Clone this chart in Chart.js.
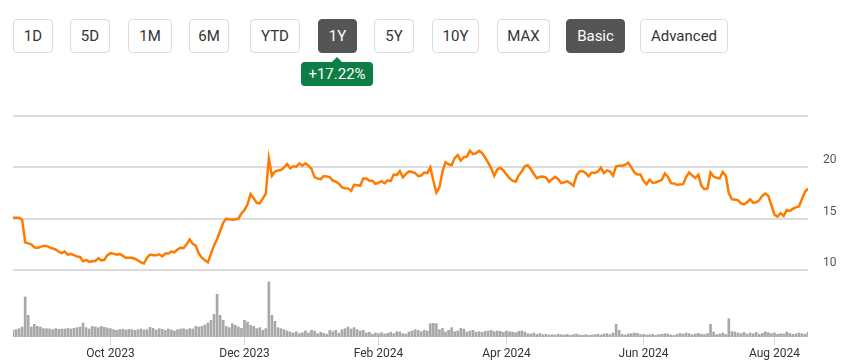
<!DOCTYPE html>
<html>
<head>
<meta charset="utf-8">
<script src="https://cdn.jsdelivr.net/npm/chart.js@4.4.1/dist/chart.umd.min.js"></script>
<style>
body { margin: 0; width: 857px; height: 362px; background: #fff; font-family: Roboto, Arial, sans-serif; overflow: hidden; position: relative; }
.btn { position: absolute; top: 19px; height: 34px; box-sizing: border-box; border: 1px solid #dcdcdc; border-radius: 4px; background: #fff; color: #333; font-size: 15px; display: flex; align-items: center; justify-content: center; }
.btn.on { background: #555; border-color: #555; color: #fff; }
.badge { position: absolute; left: 301px; top: 62px; width: 72px; height: 24px; background: #0e7c45; color: #fff; border-radius: 4px; font-size: 15px; display: flex; align-items: center; justify-content: center; }
.badge:before { content: ''; position: absolute; top: -5px; left: 31px; border-left: 5px solid transparent; border-right: 5px solid transparent; border-bottom: 5px solid #0e7c45; }
#wrap { position: absolute; left: 0; top: 100px; width: 857px; height: 262px; }
</style>
</head>
<body>
<div class="btn" style="left:13px;width:40px">1D</div>
<div class="btn" style="left:70px;width:40px">5D</div>
<div class="btn" style="left:128px;width:44px">1M</div>
<div class="btn" style="left:189px;width:40px">6M</div>
<div class="btn" style="left:250px;width:50px">YTD</div>
<div class="btn on" style="left:318px;width:39px">1Y</div>
<div class="btn" style="left:374px;width:40px">5Y</div>
<div class="btn" style="left:432px;width:47px">10Y</div>
<div class="btn" style="left:497px;width:53px">MAX</div>
<div class="btn on" style="left:566px;width:59px">Basic</div>
<div class="btn" style="left:640px;width:88px">Advanced</div>
<div class="badge">+17.22%</div>
<div id="wrap"><canvas id="chart" width="857" height="262"></canvas></div>
<script>
// Data (one value per trading day, first day below)
const startDate = '2023-08-17'
const tickLabels = ['Oct 2023', 'Dec 2023', 'Feb 2024', 'Apr 2024', 'Jun 2024', 'Aug 2024']
const priceTicks = [10, 15, 20, 25]

const prices = [
  15.1, 15.1, 15.1, 14.9, 12.7, 12.6, 12.5, 12.2, 12.15, 12.25,
  12.35, 12.35, 12.2, 12.1, 12.0, 11.8, 11.65, 11.8, 11.5, 11.57,
  11.45, 11.33, 11.27, 10.85, 10.98, 10.8, 10.85, 10.88, 11.14, 10.94,
  11.0, 11.45, 11.65, 11.6, 11.5, 11.57, 11.4, 11.2, 11.2, 11.2,
  11.1, 10.94, 10.75, 10.65, 11.2, 11.5, 11.45, 11.43, 11.53, 11.33,
  11.6, 11.6, 11.8, 11.73, 12.0, 12.16, 12.12, 12.5, 12.97, 12.55,
  12.38, 11.6, 11.2, 10.95, 10.75, 11.6, 12.4, 13.0, 13.8, 14.6,
  15.0, 14.95, 14.9, 14.95, 15.0, 15.5, 15.85, 16.4, 17.4, 17.0,
  16.55, 16.5, 16.96, 17.45, 20.88, 19.18, 19.6, 19.7, 19.74, 20.0,
  20.32, 19.9, 20.1, 20.06, 20.39, 20.16, 20.39, 20.16, 19.85, 19.05,
  18.9, 18.85, 19.15, 19.1, 19.05, 18.7, 18.6, 18.4, 18.05, 17.97,
  17.95, 17.71, 18.3, 18.25, 18.2, 18.92, 18.92, 18.69, 18.69, 18.4,
  18.5, 18.66, 18.46, 18.73, 18.66, 19.3, 19.25, 19.64, 19.02, 19.34,
  19.6, 19.55, 19.45, 19.15, 19.2, 19.5, 19.45, 20.0, 18.7, 17.55,
  18.04, 19.6, 20.5, 20.3, 20.2, 20.9, 21.2, 20.65, 20.98, 21.05,
  21.63, 21.3, 21.37, 21.6, 21.4, 20.95, 20.45, 19.9, 19.18, 19.8,
  19.95, 19.7, 19.3, 18.95, 18.7, 18.6, 19.2, 19.6, 20.1, 20.2,
  19.83, 19.35, 18.95, 19.08, 19.1, 19.0, 18.59, 18.85, 19.08, 18.85,
  18.46, 18.55, 18.63, 18.45, 18.2, 19.2, 19.6, 19.65, 19.45, 19.12,
  19.5, 19.45, 19.6, 19.96, 19.44, 19.71, 19.6, 19.2, 20.1, 20.16,
  20.16, 20.25, 20.45, 20.0, 19.5, 19.3, 19.3, 18.7, 18.35, 18.8,
  18.5, 18.53, 18.65, 18.78, 19.41, 19.08, 18.46, 18.43, 18.3, 18.33,
  18.36, 19.08, 19.5, 19.2, 18.95, 19.28, 18.2, 17.87, 17.94, 19.5,
  19.1, 18.98, 18.92, 19.55, 19.2, 17.5, 16.89, 16.87, 16.8, 16.5,
  16.4, 16.6, 16.89, 16.57, 16.6, 16.8, 17.25, 17.45, 17.2, 16.3,
  15.4, 15.2, 15.55, 15.26, 15.84, 15.75, 15.95, 16.1, 16.2, 16.9,
  17.6, 17.95
]

// Volume in millions
const volumes = [
  2.0, 2.2, 2.5, 3.0, 12.0, 6.5, 3.0, 3.8, 3.2, 3.0,
  2.5, 2.5, 2.4, 2.2, 2.5, 2.3, 2.4, 2.4, 2.6, 2.4,
  2.6, 2.8, 3.0, 4.2, 2.8, 2.4, 3.2, 3.0, 2.8, 3.2,
  2.9, 2.7, 2.5, 2.2, 2.0, 2.2, 2.3, 2.1, 2.3, 2.2,
  2.0, 2.2, 2.4, 2.1, 2.2, 2.9, 2.6, 2.1, 2.5, 2.3,
  2.0, 2.4, 2.1, 1.8, 2.2, 2.4, 2.5, 2.2, 2.5, 2.4,
  3.2, 3.0, 3.2, 3.6, 4.2, 5.0, 6.8, 12.8, 6.5, 5.0,
  3.2, 2.8, 4.0, 3.5, 3.0, 2.6, 5.0, 4.5, 3.5, 3.2,
  2.5, 2.8, 2.0, 2.5, 16.5, 6.5, 4.7, 2.8, 2.5, 2.2,
  1.8, 1.5, 1.2, 1.6, 1.0, 1.3, 1.8, 1.2, 2.0, 1.8,
  1.0, 1.4, 1.1, 0.8, 2.0, 1.6, 2.0, 1.2, 2.2, 2.5,
  3.0, 2.4, 2.8, 2.2, 1.8, 2.0, 1.2, 1.4, 0.8, 1.2,
  1.0, 1.3, 0.9, 1.1, 1.4, 1.0, 1.6, 1.5, 1.0, 0.9,
  1.5, 1.8, 2.2, 2.0, 1.6, 2.0, 1.8, 4.0, 4.1, 4.0,
  2.2, 2.6, 1.5, 2.0, 2.8, 1.6, 1.8, 2.6, 2.4, 1.5,
  1.8, 2.0, 1.4, 1.6, 1.4, 1.7, 1.8, 2.0, 1.6, 1.8,
  1.7, 1.4, 1.8, 1.6, 1.5, 1.3, 1.7, 1.8, 1.5, 1.0,
  0.9, 1.2, 0.8, 1.0, 0.7, 0.8, 0.6, 0.7, 0.6, 0.8,
  0.7, 0.6, 0.8, 0.5, 0.7, 0.9, 0.6, 0.5, 0.7, 0.5,
  0.6, 0.7, 0.8, 0.6, 0.9, 1.0, 0.7, 1.2, 3.8, 2.0,
  0.8, 0.6, 0.9, 1.0, 1.2, 1.1, 0.7, 0.8, 0.6, 0.7,
  0.8, 0.5, 0.7, 0.8, 1.0, 0.9, 0.6, 0.5, 0.8, 1.1,
  0.9, 1.2, 1.0, 0.7, 0.9, 1.1, 0.8, 0.7, 1.0, 3.8,
  1.5, 0.7, 0.9, 1.2, 0.8, 5.5, 1.6, 1.5, 1.2, 1.0,
  1.4, 0.9, 1.2, 1.0, 1.4, 0.8, 1.1, 1.6, 1.3, 1.0,
  1.2, 0.8, 1.0, 0.9, 1.5, 1.1, 0.8, 0.9, 1.2, 1.0,
  0.8, 1.4
]

// Build the list of weekdays starting at startDate
const monthNames = ['Jan', 'Feb', 'Mar', 'Apr', 'May', 'Jun', 'Jul', 'Aug', 'Sep', 'Oct', 'Nov', 'Dec']
const days = []
const d = new Date(startDate + 'T00:00:00Z')
while (days.length < prices.length) {
	const wd = d.getUTCDay()
	if (wd !== 0 && wd !== 6) days.push(new Date(d))
	d.setUTCDate(d.getUTCDate() + 1)
}
const fmt = (dt) => monthNames[dt.getUTCMonth()] + ' ' + dt.getUTCFullYear()

// First trading day of every labelled month
const tickIdx = tickLabels.map(l => days.findIndex(dt => fmt(dt) === l))

const maxVol = Math.max(...volumes)

new Chart(document.getElementById('chart'), {
	type: 'bar',
	data: {
		datasets: [
			{
				type: 'line',
				data: prices.map((v, i) => ({ x: i, y: v })),
				borderColor: '#ff7a00',
				borderWidth: 2.5,
				pointRadius: 0,
				tension: 0,
				yAxisID: 'y',
				order: 0
			},
			{
				type: 'bar',
				data: volumes.map((v, i) => ({ x: i, y: v })),
				backgroundColor: '#a8a8a8',
				barThickness: 2,
				yAxisID: 'yv',
				order: 1
			}
		]
	},
	options: {
		responsive: false,
		animation: false,
		layout: { padding: { left: 13, top: 16, right: 0, bottom: 0 } },
		plugins: { legend: { display: false }, tooltip: { enabled: false } },
		scales: {
			x: {
				type: 'linear',
				offset: false,
				min: 0,
				max: prices.length - 1,
				afterBuildTicks: (s) => { s.ticks = tickIdx.map(v => ({ value: v })) },
				afterFit: (s) => { s.height = 25 },
				ticks: {
					autoSkip: false,
					maxRotation: 0,
					padding: 2,
					color: '#333',
					font: { family: 'Roboto', size: 12 },
					callback: (v) => tickLabels[tickIdx.indexOf(v)]
				},
				grid: { offset: false, drawOnChartArea: false, tickLength: 8, color: '#d8d8d8' },
				border: { display: false }
			},
			y: {
				position: 'right',
				min: 3.48,
				max: 25,
				afterBuildTicks: (s) => { s.ticks = priceTicks.map(v => ({ value: v })) },
				afterFit: (s) => { s.width = 49; s.paddingTop = 0; s.paddingBottom = 0 },
				ticks: {
					padding: 15,
					labelOffset: -7,
					color: '#555',
					font: { family: 'Roboto', size: 12 },
					callback: (v) => v === 25 ? '' : v
				},
				grid: { color: '#dcdcdc', lineWidth: 2, drawTicks: false },
				border: { display: false }
			},
			yv: {
				display: false,
				min: 0,
				max: maxVol * 221 / 55
			}
		}
	}
})
</script>
</body>
</html>
